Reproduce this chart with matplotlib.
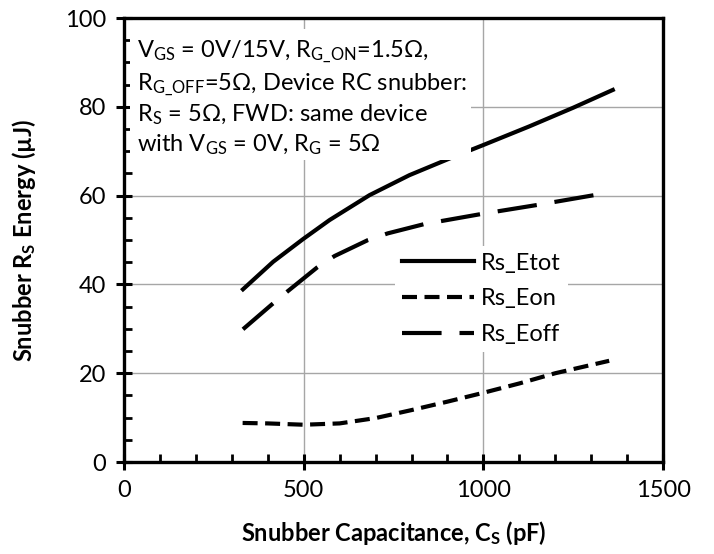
import matplotlib
matplotlib.use("Agg")
import matplotlib.pyplot as plt
from matplotlib.ticker import MultipleLocator
from matplotlib.patches import Rectangle

plt.rcParams['font.family'] = ['Lato', 'DejaVu Sans']
plt.rcParams['mathtext.fontset'] = 'custom'
plt.rcParams['mathtext.rm'] = 'Lato'
plt.rcParams['mathtext.bf'] = 'Lato:bold'
plt.rcParams['mathtext.it'] = 'Lato:italic'

# data
cap_tot = [331, 415, 498, 572, 683, 794, 919, 1000, 1128, 1250, 1360]
e_tot = [38.9, 45.1, 50.2, 54.5, 60.1, 64.6, 68.8, 71.4, 75.6, 79.8, 83.8]

cap_on = [330, 400, 500, 600, 700, 800, 900, 1000, 1100, 1200, 1350]
e_on = [8.8, 8.7, 8.4, 8.7, 9.9, 11.7, 13.6, 15.6, 17.7, 20.0, 22.8]

cap_off = [331, 410, 456, 537, 586, 679, 734, 836, 997, 1150, 1322]
e_off = [29.9, 35.4, 38.5, 43.8, 46.4, 50.0, 51.5, 53.6, 55.9, 57.9, 60.3]

note = ("V$_{\\mathrm{GS}}$ = 0V/15V, R$_{\\mathrm{G\\_ON}}$=1.5Ω,\n"
        "R$_{\\mathrm{G\\_OFF}}$=5Ω, Device RC snubber:\n"
        "R$_{\\mathrm{S}}$ = 5Ω, FWD: same device\n"
        "with V$_{\\mathrm{GS}}$ = 0V, R$_{\\mathrm{G}}$ = 5Ω")

fig = plt.figure(figsize=(7.14, 5.54), dpi=100)
ax = fig.add_axes([0.1737, 0.166, 0.755, 0.8015])

lw = 3.0
ax.plot(cap_tot, e_tot, color="black", lw=lw, label="Rs_Etot", zorder=3)
ax.plot(cap_on, e_on, color="black", lw=lw, dashes=(3.6, 1.8), label="Rs_Eon", zorder=3)
ax.plot(cap_off, e_off, color="black", lw=lw, dashes=(9.5, 4.3), label="Rs_Eoff", zorder=3)

ax.set_xlim(0, 1500)
ax.set_ylim(0, 100)
ax.xaxis.set_major_locator(MultipleLocator(500))
ax.xaxis.set_minor_locator(MultipleLocator(100))
ax.yaxis.set_major_locator(MultipleLocator(20))
ax.yaxis.set_minor_locator(MultipleLocator(5))
ax.grid(True, which="major", color="#a6a6a6", lw=1.0)
ax.set_axisbelow(True)

for s in ax.spines.values():
    s.set_linewidth(2.4)
    s.set_zorder(6)
ax.tick_params(which="major", direction="inout", length=12, width=2.2, labelsize=17, pad=7)
ax.tick_params(which="minor", direction="in", length=6, width=2.0)

ax.set_xlabel("Snubber Capacitance, C$_\\mathbf{S}$ (pF)", fontsize=17, fontweight="bold", labelpad=13)
ax.set_ylabel("Snubber R$_\\mathbf{S}$ Energy (µJ)", fontsize=17, fontweight="bold", labelpad=19)

# white box behind the note, it hides grid and curve
ax.add_patch(Rectangle((0.011, 0.68), 0.633, 0.295, transform=ax.transAxes,
                       facecolor="white", edgecolor="none", zorder=4))
ax.text(0.025, 0.955, note, transform=ax.transAxes, fontsize=17, va="top", ha="left",
        linespacing=1.3, zorder=5)

leg = ax.legend(loc="upper left", bbox_to_anchor=(0.481, 0.514), fontsize=17, frameon=True,
                framealpha=1, edgecolor="none", fancybox=False, handlelength=3.05,
                handletextpad=0.3, labelspacing=0.62, borderpad=0.3)

fig.savefig("out.png", dpi=100)
